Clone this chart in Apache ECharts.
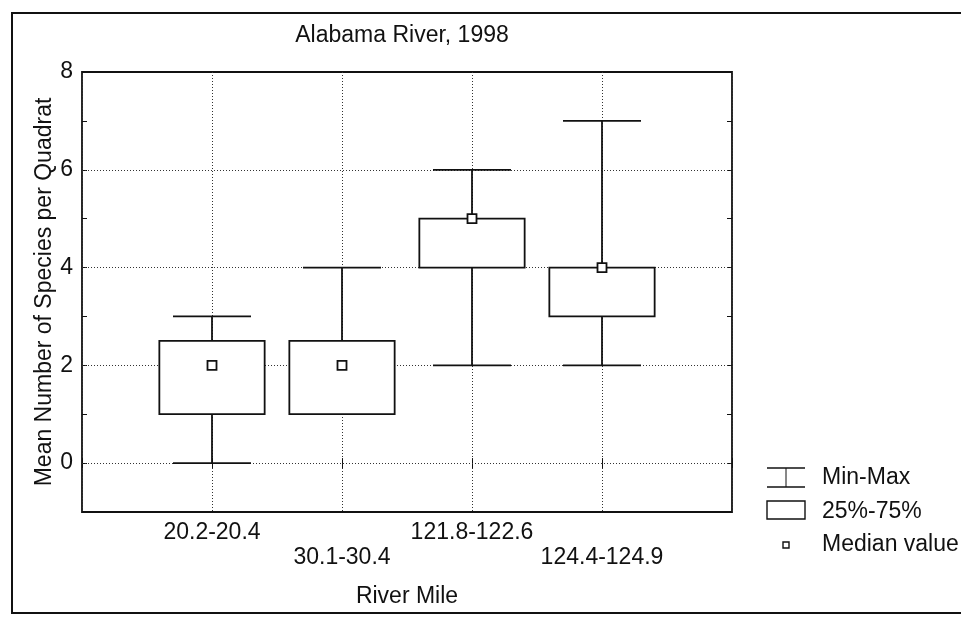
<!DOCTYPE html>
<html>
<head>
<meta charset="utf-8">
<script src="https://cdn.jsdelivr.net/npm/echarts@6/dist/echarts.min.js"></script>
<style>html,body{margin:0;padding:0;background:#fff;}#chart{width:961px;height:617px;}</style>
</head>
<body>
<div id="chart"></div>
<script>
// ---- data ----
const categories = ['20.2-20.4', '30.1-30.4', '121.8-122.6', '124.4-124.9'];
const minValues    = [0, 1, 2, 2];
const q1Values     = [1, 1, 4, 3];
const medianValues = [2, 2, 5, 4];
const q3Values     = [2.5, 2.5, 5, 4];
const maxValues    = [3, 4, 6, 7];
const yGridValues  = [0, 2, 4, 6];
const title = 'Alabama River, 1998';
const yTitle = 'Mean Number of Species per Quadrat';
const xTitle = 'River Mile';
const legendLabels = ['Min-Max', '25%-75%', 'Median value'];

// ---- build ----
const axisCats = [''].concat(categories).concat(['']);
const boxData = categories.map((c, i) => [i + 1, minValues[i], q1Values[i], medianValues[i], q3Values[i], maxValues[i]]);
const FONT = '"Liberation Sans", Arial, sans-serif';
const INK = '#111';
const FS = 23;

const chart = echarts.init(document.getElementById('chart'));

function renderItem(params, api) {
  const x = api.value(0);
  const c = (v) => api.coord([x, v]);
  const cx = c(api.value(1))[0];
  const yMin = c(api.value(1))[1];
  const yQ1 = c(api.value(2))[1];
  const yMed = c(api.value(3))[1];
  const yQ3 = c(api.value(4))[1];
  const yMax = c(api.value(5))[1];
  const band = api.size([1, 0])[0];
  const bh = band * 0.405;
  const ch = band * 0.3;
  const ls = { stroke: INK, lineWidth: 1.8 };
  const children = [];
  if (yMax < yQ3) {
    children.push({ type: 'line', shape: { x1: cx, y1: yMax, x2: cx, y2: yQ3 }, style: ls });
  }
  children.push({ type: 'line', shape: { x1: cx - ch, y1: yMax, x2: cx + ch, y2: yMax }, style: ls });
  if (yMin > yQ1) {
    children.push({ type: 'line', shape: { x1: cx, y1: yQ1, x2: cx, y2: yMin }, style: ls });
  }
  children.push({ type: 'line', shape: { x1: cx - ch, y1: yMin, x2: cx + ch, y2: yMin }, style: ls });
  children.push({ type: 'rect', shape: { x: cx - bh, y: yQ3, width: 2 * bh, height: yQ1 - yQ3 }, style: { fill: '#fff', stroke: INK, lineWidth: 1.8 } });
  children.push({ type: 'rect', shape: { x: cx - 4.5, y: yMed - 4.5, width: 9, height: 9 }, style: { fill: '#fff', stroke: INK, lineWidth: 1.8 } });
  return { type: 'group', children: children };
}

const lx = 767, lw = 38;
const option = {
  animation: false,
  backgroundColor: '#fff',
  title: {
    text: title, left: 397, top: 19, textAlign: 'center',
    textStyle: { fontFamily: FONT, fontSize: FS, fontWeight: 'normal', color: INK }
  },
  grid: { left: 82, right: 229, top: 72, bottom: 105, show: true, borderColor: INK, borderWidth: 1.8, backgroundColor: 'transparent' },
  xAxis: [{
    type: 'category', data: axisCats, boundaryGap: false, position: 'bottom',
    name: xTitle, nameLocation: 'middle', nameGap: 73,
    nameTextStyle: { fontFamily: FONT, fontSize: FS, color: INK },
    axisLine: { show: false },
    axisTick: { show: true, inside: true, length: 5, interval: 0, lineStyle: { color: INK } },
    axisLabel: {
      interval: 0, hideOverlap: false, margin: 8, fontFamily: FONT, fontSize: FS, color: INK, lineHeight: 25,
      formatter: (v, i) => (i % 2 === 0 && v ? '\n' + v : v)
    },
    splitLine: { show: true, interval: 0, lineStyle: { color: '#333', width: 1, type: [1, 2] } }
  }, {
    type: 'category', data: axisCats, boundaryGap: false, position: 'top',
    axisLine: { show: false }, axisLabel: { show: false },
    axisTick: { show: true, inside: true, length: 5, interval: 0, lineStyle: { color: INK } },
    splitLine: { show: false }
  }],
  yAxis: [{
    type: 'value', min: -1, max: 8, interval: 1, position: 'left',
    name: yTitle, nameLocation: 'middle', nameGap: 26, nameMoveOverlap: false,
    nameTextStyle: { fontFamily: FONT, fontSize: FS, color: INK },
    axisLine: { show: false },
    axisTick: { show: true, inside: true, length: 5, lineStyle: { color: INK } },
    axisLabel: { margin: 9, fontFamily: FONT, fontSize: FS, color: INK, formatter: v => (v >= 0 && v % 2 === 0 ? String(v) : '') },
    splitLine: { show: false }
  }, {
    type: 'value', min: -1, max: 8, interval: 1, position: 'right',
    axisLine: { show: false }, axisLabel: { show: false },
    axisTick: { show: true, inside: true, length: 5, lineStyle: { color: INK } },
    splitLine: { show: false }
  }],
  series: [{
    type: 'line', data: [], z: 1, silent: true,
    markLine: {
      silent: true, symbol: 'none', label: { show: false }, animation: false,
      lineStyle: { color: '#333', width: 1, type: [1, 2] },
      data: yGridValues.map(v => ({ yAxis: v }))
    }
  }, {
    type: 'custom', renderItem: renderItem, data: boxData, z: 5,
    encode: { x: 0, y: [1, 2, 3, 4, 5] }
  }],
  graphic: [
    { type: 'rect', shape: { x: 12, y: 13, width: 980, height: 600 }, style: { fill: 'none', stroke: INK, lineWidth: 2 }, silent: true },
    { type: 'line', shape: { x1: lx, y1: 468, x2: lx + lw, y2: 468 }, style: { stroke: INK, lineWidth: 1.4 } },
    { type: 'line', shape: { x1: lx, y1: 487, x2: lx + lw, y2: 487 }, style: { stroke: INK, lineWidth: 1.4 } },
    { type: 'line', shape: { x1: lx + lw / 2, y1: 468, x2: lx + lw / 2, y2: 487 }, style: { stroke: INK, lineWidth: 1 } },
    { type: 'rect', shape: { x: lx, y: 501, width: lw, height: 18 }, style: { fill: '#fff', stroke: INK, lineWidth: 1.4 } },
    { type: 'rect', shape: { x: lx + lw / 2 - 3, y: 542, width: 6, height: 6 }, style: { fill: '#fff', stroke: INK, lineWidth: 1.4 } },
    { type: 'text', x: 822, y: 478, style: { text: legendLabels[0], font: FS + 'px ' + FONT, fill: INK, verticalAlign: 'middle' } },
    { type: 'text', x: 822, y: 512, style: { text: legendLabels[1], font: FS + 'px ' + FONT, fill: INK, verticalAlign: 'middle' } },
    { type: 'text', x: 822, y: 545, style: { text: legendLabels[2], font: FS + 'px ' + FONT, fill: INK, verticalAlign: 'middle' } }
  ]
};
chart.setOption(option);
</script>
</body>
</html>
